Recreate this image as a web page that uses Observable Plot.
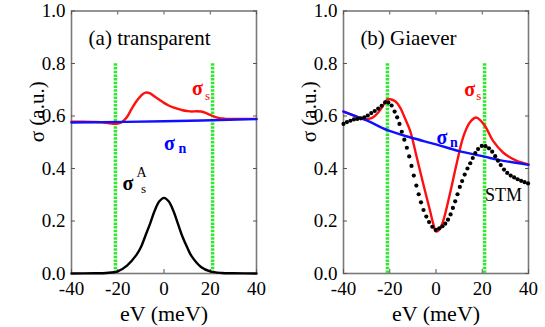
<!DOCTYPE html>
<html>
<head>
<meta charset="utf-8">
<script src="https://cdn.jsdelivr.net/npm/d3@7"></script>
<script src="https://cdn.jsdelivr.net/npm/@observablehq/plot@0.6"></script>
<style>
  html, body { margin: 0; padding: 0; background: #fff; }
  #wrap { display: flex; width: 545px; height: 327px; }
  #wrap svg, #wrap svg text { font-family: "Liberation Serif", "DejaVu Serif", "Times New Roman", serif !important; }
</style>
</head>
<body>
<div id="wrap"></div>
<script>
// ---------- data ----------
const xTicks = [-40, -20, 0, 20, 40];
const yTicks = [0, 0.2, 0.4, 0.6, 0.8, 1.0];
const gapLines = [-21, 21];
const gapTop = 0.8;

// panel (a) transparent
const aE = [-40, -35, -30, -25, -22, -20, -18, -16, -14, -12, -10, -8, -6, -4, -2, 0, 2, 4, 6, 8, 10, 12, 14, 16, 18, 20, 22, 24, 26, 28, 32, 36, 40];
const aSigmaS = [0.578, 0.578, 0.577, 0.574, 0.57, 0.571, 0.578, 0.596, 0.627, 0.655, 0.677, 0.689, 0.686, 0.674, 0.662, 0.65, 0.64, 0.633, 0.627, 0.622, 0.619, 0.617, 0.618, 0.617, 0.612, 0.604, 0.597, 0.592, 0.59, 0.589, 0.589, 0.589, 0.589];
const aNE = [-40, 0, 40];
const aSigmaN = [0.575, 0.58, 0.588];
const aAE = [-40, -30, -25, -20, -16, -12, -10, -8, -6, -4, -2, 0, 2, 4, 6, 8, 10, 12, 16, 20, 25, 30, 40];
const aSigmaA = [0, 0.001, 0.002, 0.008, 0.03, 0.07, 0.1, 0.145, 0.19, 0.24, 0.275, 0.288, 0.275, 0.24, 0.19, 0.14, 0.1, 0.065, 0.025, 0.008, 0.002, 0.001, 0];

// panel (b) Giaever
const bE = [-40, -36, -33, -31, -29, -27, -25, -23, -21.2, -19.8, -17.5, -15.5, -13.5, -11.2, -8.3, -5.5, -2.6, -1.2, 0, 1.5, 3.1, 6, 8.9, 11.7, 14.6, 17.5, 21.1, 24.6, 29, 34.7, 40];
const bSigmaS = [0.617, 0.603, 0.592, 0.588, 0.589, 0.596, 0.613, 0.638, 0.662, 0.664, 0.655, 0.632, 0.593, 0.544, 0.442, 0.341, 0.24, 0.19, 0.16, 0.168, 0.2, 0.303, 0.417, 0.518, 0.575, 0.594, 0.563, 0.506, 0.461, 0.43, 0.416];
const bNE = [-40, -30, -21, -11, 0, 10, 21, 27, 40];
const bSigmaN = [0.617, 0.583, 0.546, 0.518, 0.492, 0.466, 0.445, 0.433, 0.414];
const stmE = [-40, -38.5, -37, -35.5, -34, -32.5, -31, -29.5, -28, -26.5, -25, -23.5, -22, -20.6, -19.2, -17.9, -16.8, -15.8, -14.8, -13.7, -12.6, -11.6, -10.6, -9.6, -8.5, -7.5, -6.5, -5.4, -4.2, -3, -1.6, -0.1, 1.4, 2.8, 4, 5.2, 6.3, 7.3, 8.3, 9.3, 10.3, 11.3, 12.4, 13.6, 14.8, 15.9, 17, 18.2, 19.8, 21.4, 22.9, 24.3, 25.6, 26.8, 28, 29.4, 30.8, 32.3, 33.8, 35.3, 36.8, 38.3, 39.8];
const stmSigma = [0.57, 0.577, 0.582, 0.587, 0.589, 0.591, 0.595, 0.602, 0.611, 0.619, 0.628, 0.639, 0.652, 0.651, 0.64, 0.617, 0.595, 0.57, 0.54, 0.51, 0.479, 0.446, 0.41, 0.373, 0.335, 0.302, 0.271, 0.242, 0.217, 0.196, 0.178, 0.166, 0.172, 0.18, 0.19, 0.205, 0.225, 0.25, 0.275, 0.302, 0.33, 0.352, 0.377, 0.4, 0.42, 0.44, 0.459, 0.474, 0.486, 0.485, 0.477, 0.464, 0.447, 0.43, 0.413, 0.396, 0.383, 0.373, 0.366, 0.359, 0.353, 0.348, 0.343];

// text annotations
const aLabels = [
  {t: "(a) transparent", x: -32.6, y: 0.895, c: "black", s: 21, w: "normal", a: "start"},
  {t: "σ", x: 14.5, y: 0.703, c: "red", s: 20, w: "bold", a: "middle"},
  {t: "s", x: 18.8, y: 0.677, c: "red", s: 13, w: "normal", a: "middle"},
  {t: "σ", x: 2.4, y: 0.493, c: "blue", s: 20, w: "bold", a: "middle"},
  {t: "n", x: 8.0, y: 0.476, c: "blue", s: 14, w: "bold", a: "middle"},
  {t: "σ", x: -15.6, y: 0.341, c: "black", s: 20, w: "bold", a: "middle"},
  {t: "A", x: -9.7, y: 0.385, c: "black", s: 14, w: "normal", a: "middle"},
  {t: "s", x: -8.9, y: 0.322, c: "black", s: 13, w: "normal", a: "middle"}
];
const bLabels = [
  {t: "(b) Giaever", x: -32.7, y: 0.895, c: "black", s: 21, w: "normal", a: "start"},
  {t: "σ", x: 14.6, y: 0.702, c: "red", s: 20, w: "bold", a: "middle"},
  {t: "s", x: 18.5, y: 0.677, c: "red", s: 13, w: "normal", a: "middle"},
  {t: "σ", x: 2.6, y: 0.518, c: "blue", s: 20, w: "bold", a: "middle"},
  {t: "n", x: 7.7, y: 0.499, c: "blue", s: 14, w: "bold", a: "middle"},
  {t: "STM", x: 29.2, y: 0.297, c: "black", s: 18, w: "normal", a: "middle"}
];

const zip = (xs, ys) => xs.map((x, i) => ({x, y: ys[i]}));

function panel(curves, dots, labels) {
  const marks = [
    Plot.frame({stroke: "#7a7a7a", strokeWidth: 1.6}),
    Plot.axisX({ticks: xTicks, tickSize: 0, tickPadding: 8, tickFormat: d => String(d), label: null, fontSize: 19}),
    Plot.axisY({ticks: yTicks, tickSize: 0, tickPadding: 6, tickFormat: d => d.toFixed(1), label: null, fontSize: 19}),
    Plot.axisX({ticks: xTicks, anchor: "bottom", tickSize: -4, text: null, label: null, stroke: "#555"}),
    Plot.axisX({ticks: xTicks, anchor: "top", tickSize: -3, text: null, label: null, stroke: "#555"}),
    Plot.axisY({ticks: yTicks, anchor: "left", tickSize: -4, text: null, label: null, stroke: "#555"}),
    Plot.axisY({ticks: yTicks, anchor: "right", tickSize: -4, text: null, label: null, stroke: "#555"}),
    Plot.ruleX(gapLines, {y1: 0, y2: gapTop, stroke: "#2fe82f", strokeWidth: 3.5, strokeDasharray: "2.5,1.2"}),
  ];
  for (const c of curves) {
    marks.push(Plot.line(c.data, {x: "x", y: "y", stroke: c.color, strokeWidth: 2.4, curve: "catmull-rom"}));
  }
  if (dots) marks.push(Plot.dot(dots, {x: "x", y: "y", r: 2.1, fill: "black", stroke: null}));
  for (const l of labels) {
    marks.push(Plot.text([l], {x: "x", y: "y", text: "t", fill: l.c, fontSize: l.s, fontWeight: l.w, textAnchor: l.a, lineAnchor: "middle"}));
  }
  marks.push(Plot.text(["eV (meV)"], {frameAnchor: "bottom", dy: 40, fontSize: 22, lineAnchor: "middle"}));
  marks.push(Plot.text(["σ (a.u.)"], {frameAnchor: "left", rotate: -90, dx: -34, fontSize: 21, lineAnchor: "middle"}));
  return Plot.plot({
    width: 272, height: 327,
    marginLeft: 71, marginRight: 16, marginTop: 10.5, marginBottom: 54,
    style: {fontSize: "19px", color: "black", background: "white", overflow: "visible"},
    x: {domain: [-40, 40]},
    y: {domain: [0, 1]},
    marks
  });
}

const wrap = document.getElementById("wrap");
wrap.append(panel([
  {data: zip(aE, aSigmaS), color: "#ff1010"},
  {data: zip(aNE, aSigmaN), color: "#1010ff"},
  {data: zip(aAE, aSigmaA), color: "black"}
], null, aLabels));
wrap.append(panel([
  {data: zip(bE, bSigmaS), color: "#ff1010"},
  {data: zip(bNE, bSigmaN), color: "#1010ff"}
], zip(stmE, stmSigma), bLabels));
</script>
</body>
</html>
